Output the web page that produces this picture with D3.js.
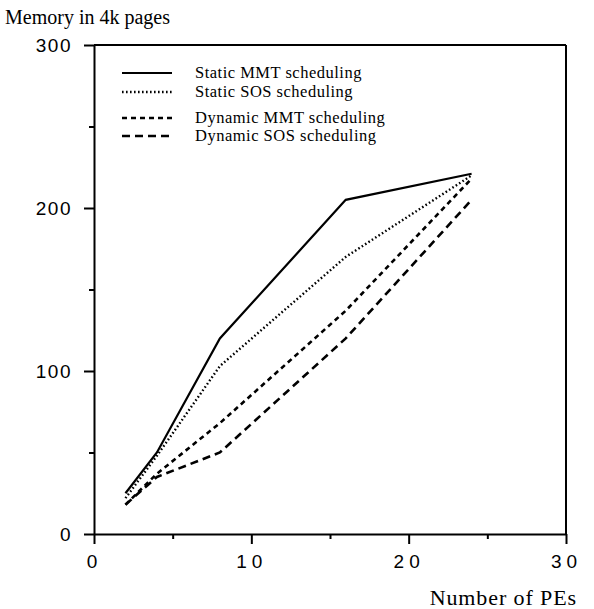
<!DOCTYPE html>
<html>
<head>
<meta charset="utf-8">
<script src="https://cdn.jsdelivr.net/npm/d3@7"></script>
<style>
  body { margin: 0; background: #fff; }
  .tick-label { font-family: "Liberation Sans", Arial, sans-serif; font-size: 19px; fill: #000; }
  .title { font-family: "Liberation Serif", "Times New Roman", serif; font-size: 20px; fill: #000; }
  .legend-text { font-family: "Liberation Serif", "Times New Roman", serif; font-size: 16.5px; letter-spacing: 0.5px; fill: #000; }
</style>
</head>
<body>
<div id="chart"></div>
<script>
// data
let pes = [2, 4, 8, 16, 24];
let staticMMT = [25, 50, 120, 205, 221];
let staticSOS = [22, 48, 103, 170, 220];
let dynamicMMT = [18, 37, 68, 137, 218];
let dynamicSOS = [18, 35, 50, 120, 205];

let seriesNames = ["Static MMT scheduling", "Static SOS scheduling",
  "Dynamic MMT scheduling", "Dynamic SOS scheduling"];
let xTicks = [0, 10, 20, 30];
let xMinor = [5, 15, 25];
let yTicks = [0, 100, 200, 300];
let yMinor = [50, 150, 250];

let svgWidth = 594;
let svgHeight = 609;
let margin = { top: 45, right: 28, bottom: 75, left: 94 };
let width = svgWidth - margin.left - margin.right;
let height = svgHeight - margin.top - margin.bottom;

let svg = d3.select("#chart").append("svg")
  .attr("width", svgWidth)
  .attr("height", svgHeight);

let g = svg.append("g")
  .attr("transform", `translate(${margin.left}, ${margin.top})`);

let x = d3.scaleLinear().domain([0, 30]).range([0, width]);
let y = d3.scaleLinear().domain([0, 300]).range([height, 0]);

// line styles per series
let styles = [
  { dash: null, width: 2.2 },
  { dash: "1.6,2.4", width: 2.4 },
  { dash: "5,4", width: 2.6 },
  { dash: "8,5", width: 2.6 }
];
let allSeries = [staticMMT, staticSOS, dynamicMMT, dynamicSOS];

// axes
let styleAxis = sel => {
  sel.select(".domain").attr("stroke", "#000").attr("stroke-width", 2);
  sel.selectAll(".tick line").attr("stroke", "#000").attr("stroke-width", 2);
};

g.append("g")
  .attr("transform", `translate(0, ${height})`)
  .call(d3.axisBottom(x).tickValues(xTicks).tickSize(10).tickSizeOuter(0).tickFormat(d3.format("d")))
  .call(styleAxis)
  .call(a => a.selectAll("text")
    .attr("class", "tick-label")
    .attr("font-size", null).attr("font-family", null)
    .attr("dy", "0.75em")
    .attr("y", 20)
    .style("letter-spacing", "5px"));

g.append("g")
  .attr("transform", `translate(0, ${height})`)
  .call(d3.axisBottom(x).tickValues(xMinor).tickSize(5).tickSizeOuter(0).tickFormat(""))
  .call(styleAxis)
  .call(a => a.select(".domain").remove());

g.append("g")
  .call(d3.axisLeft(y).tickValues(yTicks).tickSize(10).tickSizeOuter(0).tickFormat(d3.format("d")))
  .call(styleAxis)
  .call(a => a.selectAll("text")
    .attr("class", "tick-label")
    .attr("font-size", null).attr("font-family", null)
    .attr("x", -22)
    .style("letter-spacing", "1.5px"));

g.append("g")
  .call(d3.axisLeft(y).tickValues(yMinor).tickSize(5).tickSizeOuter(0).tickFormat(""))
  .call(styleAxis)
  .call(a => a.select(".domain").remove());

// top and right border of the box
g.append("line")
  .attr("x1", x(0)).attr("x2", x(30))
  .attr("y1", y(300)).attr("y2", y(300))
  .attr("stroke", "#000").attr("stroke-width", 2);
g.append("line")
  .attr("x1", x(30)).attr("x2", x(30))
  .attr("y1", y(300)).attr("y2", y(0))
  .attr("stroke", "#000").attr("stroke-width", 2);

// lines
let line = d3.line()
  .x((d, i) => x(pes[i]))
  .y(d => y(d));

allSeries.forEach((s, i) => {
  g.append("path")
    .datum(s)
    .attr("d", line)
    .attr("fill", "none")
    .attr("stroke", "#000")
    .attr("stroke-width", styles[i].width)
    .attr("stroke-dasharray", styles[i].dash);
});

// legend
let legendY = [73, 92, 118, 136];
let legend = svg.append("g");
seriesNames.forEach((name, i) => {
  legend.append("line")
    .attr("x1", 122).attr("x2", 172)
    .attr("y1", legendY[i]).attr("y2", legendY[i])
    .attr("stroke", "#000")
    .attr("stroke-width", styles[i].width)
    .attr("stroke-dasharray", styles[i].dash);
  legend.append("text")
    .attr("class", "legend-text")
    .attr("x", 195)
    .attr("y", legendY[i] + 5)
    .text(name);
});

// axis titles
svg.append("text")
  .attr("class", "title")
  .attr("x", 5)
  .attr("y", 24)
  .text("Memory in 4k pages");

svg.append("text")
  .attr("class", "title")
  .attr("x", 577)
  .attr("y", 605)
  .attr("text-anchor", "end")
  .style("font-size", "22px")
  .style("letter-spacing", "0.9px")
  .text("Number of PEs");
</script>
</body>
</html>
